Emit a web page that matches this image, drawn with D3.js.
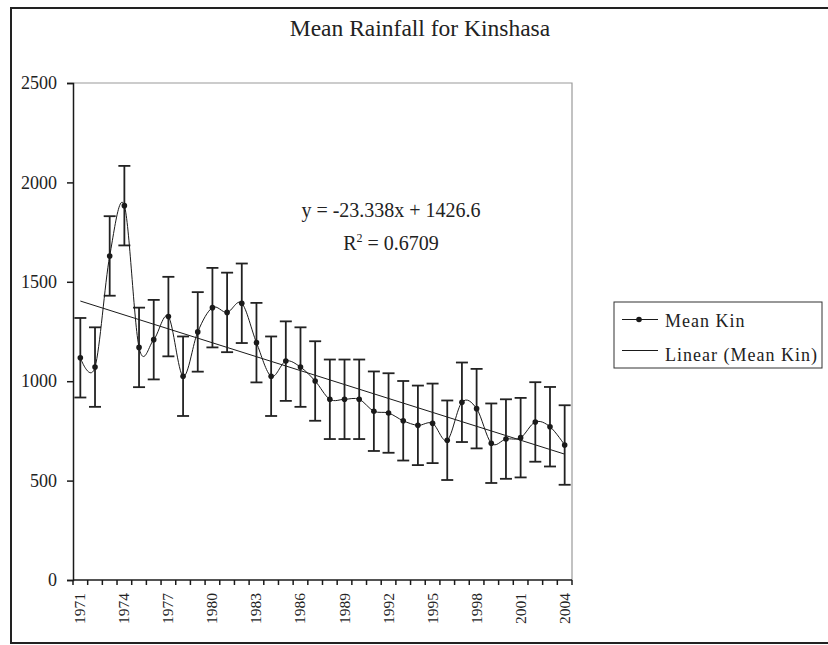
<!DOCTYPE html>
<html>
<head>
<meta charset="utf-8">
<script src="https://cdn.jsdelivr.net/npm/d3@7"></script>
<style>
  html, body { margin: 0; padding: 0; background: #fff; }
  svg { display: block; }
  svg text { font-family: "Liberation Serif", "Tinos", "DejaVu Serif", "Noto Serif", serif; fill: #222; }
</style>
</head>
<body>
<svg id="chart" width="828" height="645"></svg>
<script>
// ---- data ----
const years = ["1971","1972","1973","1974","1975","1976","1977","1978","1979","1980",
  "1981","1982","1983","1984","1985","1986","1987","1988","1989","1990",
  "1991","1992","1993","1994","1995","1996","1997","1998","1999","2000",
  "2001","2002","2003","2004"];
const meanKin = [1118, 1071, 1630, 1883, 1170, 1209, 1325, 1025, 1248, 1370,
  1346, 1392, 1194, 1025, 1101, 1071, 1001, 909, 909, 909,
  849, 840, 801, 778, 788, 703, 894, 862, 688, 709,
  716, 795, 771, 679];
const errorValue = 200;
const yTicks = [0, 500, 1000, 1500, 2000, 2500];
const xTickLabels = ["1971","1974","1977","1980","1983","1986","1989","1992","1995","1998","2001","2004"];
const trendSlope = -23.338;
const trendIntercept = 1426.6;
const titleText = "Mean Rainfall for Kinshasa";
const eqText = "y = -23.338x + 1426.6";
const r2Text = "0.6709";
const legendLabels = ["Mean Kin", "Linear (Mean Kin)"];

// ---- layout ----
const FONT = '"Liberation Serif", "Tinos", "DejaVu Serif", "Noto Serif", serif';
const svg = d3.select("#chart");
const plot = { left: 73, right: 572, top: 83, bottom: 580 };
const ink = "#1a1a1a";

// outer border
svg.append("rect").attr("x", 11).attr("y", 8).attr("width", 830).attr("height", 635)
  .attr("fill", "none").attr("stroke", "#222").attr("stroke-width", 2);

const x = d3.scaleBand().domain(years).range([plot.left, plot.right]).padding(0);
const xc = d => x(d) + x.bandwidth() / 2;
const y = d3.scaleLinear().domain([0, 2500]).range([plot.bottom, plot.top]);

// plot-area frame (grey top/right)
svg.append("path")
  .attr("d", `M${plot.left},${plot.top}H${plot.right}V${plot.bottom}`)
  .attr("fill", "none").attr("stroke", "#9a9a9a").attr("stroke-width", 1.2);

// title
svg.append("text").attr("x", 420).attr("y", 36).attr("text-anchor", "middle")
  .attr("font-family", FONT).style("font-size", "23.5px").text(titleText);

// y axis
const yAxis = svg.append("g").attr("transform", `translate(${plot.left},0)`)
  .call(d3.axisLeft(y).tickValues(yTicks).tickSize(6).tickPadding(10).tickFormat(d3.format("d")));
yAxis.attr("font-family", FONT).attr("font-size", 18);
yAxis.select(".domain").attr("stroke", ink).attr("stroke-width", 1.5);
yAxis.selectAll(".tick line").attr("stroke", ink).attr("stroke-width", 1.5);
yAxis.selectAll(".tick text").attr("fill", "#222");

// x axis: line + boundary ticks
const xAxisG = svg.append("g").attr("font-family", FONT);
xAxisG.append("line").attr("x1", plot.left).attr("x2", plot.right)
  .attr("y1", plot.bottom).attr("y2", plot.bottom).attr("stroke", ink).attr("stroke-width", 1.5);
const boundaries = years.map(d => x(d)).concat([plot.right]);
xAxisG.selectAll("line.bt").data(boundaries).enter().append("line").attr("class", "bt")
  .attr("x1", d => d).attr("x2", d => d).attr("y1", plot.bottom).attr("y2", plot.bottom + 5)
  .attr("stroke", ink).attr("stroke-width", 1.5);
xAxisG.selectAll("text.xl").data(xTickLabels).enter().append("text").attr("class", "xl")
  .attr("transform", d => `translate(${xc(d) + 5},${plot.bottom + 13}) rotate(-90)`)
  .attr("text-anchor", "end").style("font-size", "15.5px").text(d => d);

// trend line
const trendPts = [1, years.length].map(i => ({ x: xc(years[i - 1]), y: y(trendSlope * i + trendIntercept) }));
svg.append("line").attr("x1", trendPts[0].x).attr("y1", trendPts[0].y)
  .attr("x2", trendPts[1].x).attr("y2", trendPts[1].y)
  .attr("stroke", ink).attr("stroke-width", 1);

// error bars
const eb = svg.append("g").attr("stroke", "#222").attr("stroke-width", 1.8).attr("fill", "none");
years.forEach((yr, i) => {
  const cx = xc(yr), v = meanKin[i];
  const top = y(v + errorValue), bot = y(v - errorValue);
  eb.append("line").attr("x1", cx).attr("x2", cx).attr("y1", top).attr("y2", bot);
  eb.append("line").attr("x1", cx - 6).attr("x2", cx + 6).attr("y1", top).attr("y2", top);
  eb.append("line").attr("x1", cx - 6).attr("x2", cx + 6).attr("y1", bot).attr("y2", bot);
});

// smoothed series line
const line = d3.line().x((d, i) => xc(years[i])).y(d => y(d)).curve(d3.curveCatmullRom.alpha(0));
svg.append("path").datum(meanKin).attr("d", line)
  .attr("fill", "none").attr("stroke", ink).attr("stroke-width", 1);
svg.selectAll("circle.pt").data(meanKin).enter().append("circle").attr("class", "pt")
  .attr("cx", (d, i) => xc(years[i])).attr("cy", d => y(d)).attr("r", 2.8).attr("fill", ink);

// equation
svg.append("text").attr("x", 391).attr("y", 217).attr("text-anchor", "middle")
  .attr("font-family", FONT).style("font-size", "20px").text(eqText);
const r2 = svg.append("text").attr("x", 391).attr("y", 250).attr("text-anchor", "middle")
  .attr("font-family", FONT).style("font-size", "20px");
r2.append("tspan").text("R");
r2.append("tspan").attr("dy", -8).style("font-size", "12px").text("2");
r2.append("tspan").attr("dy", 8).text(" = " + r2Text);

// legend
const lg = svg.append("g").attr("font-family", FONT);
lg.append("rect").attr("x", 614).attr("y", 302).attr("width", 208).attr("height", 66)
  .attr("fill", "#fff").attr("stroke", "#333").attr("stroke-width", 1);
lg.append("line").attr("x1", 622).attr("x2", 658).attr("y1", 319.5).attr("y2", 319.5)
  .attr("stroke", ink).attr("stroke-width", 1);
lg.append("circle").attr("cx", 639).attr("cy", 319.5).attr("r", 2.8).attr("fill", ink);
lg.append("line").attr("x1", 622).attr("x2", 658).attr("y1", 350.5).attr("y2", 350.5)
  .attr("stroke", ink).attr("stroke-width", 1);
lg.selectAll("text.lt").data(legendLabels).enter().append("text").attr("class", "lt")
  .attr("x", 665).attr("y", (d, i) => 326.5 + i * 34)
  .style("font-size", "18px").style("letter-spacing", "1px").text(d => d);
</script>
</body>
</html>
